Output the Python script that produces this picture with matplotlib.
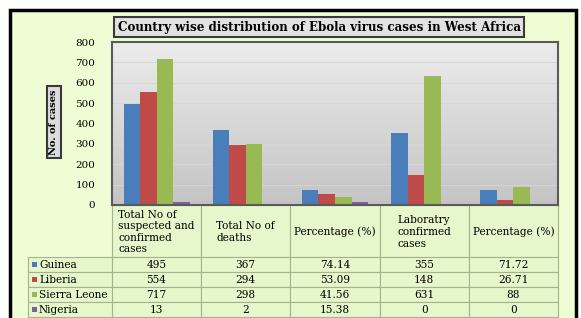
import numpy as np
import matplotlib.pyplot as plt
from matplotlib.patches import Rectangle
from matplotlib.colors import LinearSegmentedColormap

categories = ["Total No of\nsuspected and\nconfirmed\ncases", "Total No of\ndeaths",
              "Percentage (%)", "Laboratry\nconfirmed\ncases", "Percentage (%)"]
countries = ["Guinea", "Liberia", "Sierra Leone", "Nigeria"]
guinea = [495, 367, 74.14, 355, 71.72]
liberia = [554, 294, 53.09, 148, 26.71]
sierra_leone = [717, 298, 41.56, 631, 88]
nigeria = [13, 2, 15.38, 0, 0]
cell_text = [["495", "367", "74.14", "355", "71.72"],
             ["554", "294", "53.09", "148", "26.71"],
             ["717", "298", "41.56", "631", "88"],
             ["13", "2", "15.38", "0", "0"]]
colors = ["#4a7ebb", "#be4b48", "#98b954", "#7d60a0"]
yticks = [0, 100, 200, 300, 400, 500, 600, 700, 800]

W, H = 581, 318
plt.rcParams['font.family'] = ['DejaVu Serif']
fig = plt.figure(figsize=(W / 100, H / 100), dpi=100, facecolor='white')

# overlay in pixel coordinates for frame and table
bg = fig.add_axes([0, 0, 1, 1])
bg.set_xlim(0, W)
bg.set_ylim(H, 0)
bg.axis('off')
bg.add_patch(Rectangle((10, 10), 566, 310, facecolor='#effdd4', edgecolor='black', lw=2.5))

# plot area
x0, x1, ytop, ybot = 112, 558, 42, 205
ax = fig.add_axes([x0 / W, 1 - ybot / H, (x1 - x0) / W, (ybot - ytop) / H])
grad = np.linspace(0, 1, 256).reshape(-1, 1)
cmap = LinearSegmentedColormap.from_list('g', ['#c4c4c4', '#ececec'])
ax.imshow(grad, extent=[-0.5, 4.5, 0, 800], aspect='auto', cmap=cmap, origin='lower', zorder=0)
for yv in yticks[1:-1]:
    ax.axhline(yv, color='#d6d6d6', lw=0.6, zorder=1)
x = np.arange(len(categories))
bw = 0.185
for i, (vals, c) in enumerate(zip([guinea, liberia, sierra_leone, nigeria], colors)):
    ax.bar(x + (i - 1.5) * bw, vals, bw, color=c, zorder=2)
ax.set_xlim(-0.5, 4.5)
ax.set_ylim(0, 800)
ax.set_xticks([])
ax.set_yticks(yticks)
ax.tick_params(axis='y', length=0, labelsize=7.5, pad=12)
for s in ax.spines.values():
    s.set_color('#5a5a5a')
    s.set_linewidth(1.5)

bg.text(319, 27, "Country wise distribution of Ebola virus cases in West Africa",
        ha='center', va='center', fontsize=8.6, fontweight='bold',
        bbox=dict(boxstyle='square,pad=0.3', facecolor='#e2e2e2', edgecolor='#3a3a3a', lw=1.5))
bg.text(54, 122, "No. of cases", rotation=90, ha='center', va='center', fontsize=7,
        fontweight='bold',
        bbox=dict(boxstyle='square,pad=0.3', facecolor='#dcdcdc', edgecolor='#3a3a3a', lw=1.5))

# table
colw = (x1 - x0) / len(categories)
hdr_bot = 257
rowh = 15
line_c = '#a3b38f'
cell_bg = '#e6f8cb'
fs = 7.6
for j, cat in enumerate(categories):
    cx = x0 + j * colw
    bg.add_patch(Rectangle((cx, ybot), colw, hdr_bot - ybot, facecolor=cell_bg, edgecolor=line_c, lw=0.8))
    bg.text(cx + colw / 2, (ybot + hdr_bot) / 2 + 1, cat, ha='center', va='center',
            multialignment='left', fontsize=fs, linespacing=1.2)
for r, name in enumerate(countries):
    ry = hdr_bot + r * rowh
    bg.add_patch(Rectangle((28, ry), x0 - 28, rowh, facecolor=cell_bg, edgecolor=line_c, lw=0.8))
    bg.add_patch(Rectangle((32, ry + 5), 5, 5, facecolor=colors[r], edgecolor='none'))
    bg.text(39, ry + rowh / 2 + 0.5, name, ha='left', va='center', fontsize=fs)
    for j in range(len(categories)):
        cx = x0 + j * colw
        bg.add_patch(Rectangle((cx, ry), colw, rowh, facecolor=cell_bg, edgecolor=line_c, lw=0.8))
        bg.text(cx + colw / 2, ry + rowh / 2 + 0.5, cell_text[r][j], ha='center', va='center', fontsize=fs)

fig.savefig('out.png', dpi=100, facecolor='white')
